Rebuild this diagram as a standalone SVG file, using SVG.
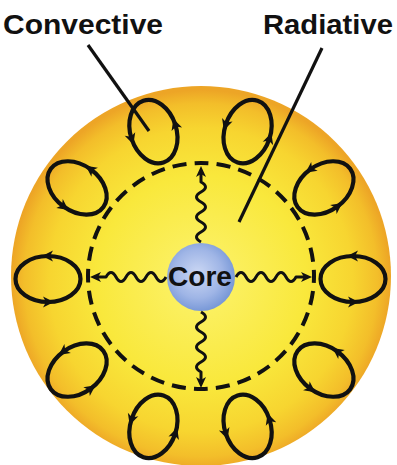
<svg xmlns="http://www.w3.org/2000/svg" xmlns:xlink="http://www.w3.org/1999/xlink" width="397" height="465" viewBox="0 0 397 465">
  <defs>
    <radialGradient id="sunFill" cx="201" cy="280" r="190" gradientUnits="userSpaceOnUse">
      <stop offset="0" stop-color="#FCF36E"/>
      <stop offset="0.55" stop-color="#F9E83C"/>
      <stop offset="0.8" stop-color="#F7D530"/>
      <stop offset="0.93" stop-color="#F3BE2A"/>
      <stop offset="1" stop-color="#EDA526"/>
    </radialGradient>
    <radialGradient id="coreFill" cx="0.45" cy="0.45" r="0.6">
      <stop offset="0" stop-color="#CCD8F4"/>
      <stop offset="0.6" stop-color="#9FB5E6"/>
      <stop offset="1" stop-color="#7092D4"/>
    </radialGradient>
    <!-- convection cell: ellipse with two heads, circulating counter-clockwise -->
    <g id="cell">
      <ellipse cx="0" cy="0" rx="32.5" ry="23" class="loop"/>
      <polygon points="-6,-23 5,-28.5 2,-23 5,-17.5" class="head"/>
      <polygon points="6,23 -5,17.5 -2,23 -5,28.5" class="head"/>
    </g>
    <!-- wavy energy ray from the core edge outward to the zone boundary -->
    <g id="ray">
      <path d="M35,0 q5,-9 10,0 t10,0 t10,0 t10,0 t10,0 t10,0 L103,0" class="wave"/>
      <polygon points="111,0 100,-5 103,0 100,5" class="head"/>
    </g>
  </defs>
  <style>
    .loop { fill: none; stroke: #111; stroke-width: 4.2; }
    .head { fill: #111; }
    .wave { fill: none; stroke: #111; stroke-width: 3; stroke-linejoin: round; }
    .pointer { stroke: #111; stroke-width: 3.2; stroke-linecap: butt; }
    .label { font-family: "Liberation Sans", Arial, sans-serif; font-weight: bold; font-size: 28px; fill: #111; text-anchor: middle; }
  </style>

  <!-- sun body -->
  <g id="sun">
    <circle cx="201" cy="276" r="190" fill="url(#sunFill)"/>
  </g>

  <!-- boundary between radiative and convective zones -->
  <g id="zone-boundary">
    <circle cx="201" cy="276" r="113" fill="none" stroke="#111" stroke-width="4" stroke-dasharray="14 8.187" stroke-dashoffset="7"/>
  </g>

  <!-- convection cells -->
  <g id="cell-0"><use xlink:href="#cell" transform="translate(353,279) rotate(0)"/></g>
  <g id="cell-36"><use xlink:href="#cell" transform="translate(323.9,370.1) rotate(36)"/></g>
  <g id="cell-72"><use xlink:href="#cell" transform="translate(247.6,426.4) rotate(72)"/></g>
  <g id="cell-108"><use xlink:href="#cell" transform="translate(153.4,426.4) rotate(108)"/></g>
  <g id="cell-144"><use xlink:href="#cell" transform="translate(77.1,370.1) rotate(144)"/></g>
  <g id="cell-180"><use xlink:href="#cell" transform="translate(48,279) rotate(180)"/></g>
  <g id="cell-216"><use xlink:href="#cell" transform="translate(77.1,187.9) rotate(216)"/></g>
  <g id="cell-252"><use xlink:href="#cell" transform="translate(153.4,131.6) rotate(252)"/></g>
  <g id="cell-288"><use xlink:href="#cell" transform="translate(247.6,131.6) rotate(288)"/></g>
  <g id="cell-324"><use xlink:href="#cell" transform="translate(323.9,187.9) rotate(324)"/></g>

  <!-- core -->
  <g id="core">
    <circle cx="201" cy="277" r="34" fill="url(#coreFill)"/>
    <text x="200" y="286" class="label" textLength="64" lengthAdjust="spacingAndGlyphs">Core</text>
  </g>

  <!-- connectors: energy rays and label pointers -->
  <g id="connectors">
    <use xlink:href="#ray" transform="translate(201,277) rotate(0)"/>
    <use xlink:href="#ray" transform="translate(201,277) rotate(90)"/>
    <use xlink:href="#ray" transform="translate(201,277) rotate(180)"/>
    <use xlink:href="#ray" transform="translate(201,277) rotate(-90)"/>
    <line x1="88" y1="45" x2="149" y2="131" class="pointer"/>
    <line x1="322" y1="48" x2="239" y2="222" class="pointer"/>
  </g>

  <!-- labels -->
  <g id="label-convective">
    <text x="83" y="34" class="label" textLength="160" lengthAdjust="spacingAndGlyphs">Convective</text>
  </g>
  <g id="label-radiative">
    <text x="328" y="34" class="label" textLength="130" lengthAdjust="spacingAndGlyphs">Radiative</text>
  </g>
</svg>
